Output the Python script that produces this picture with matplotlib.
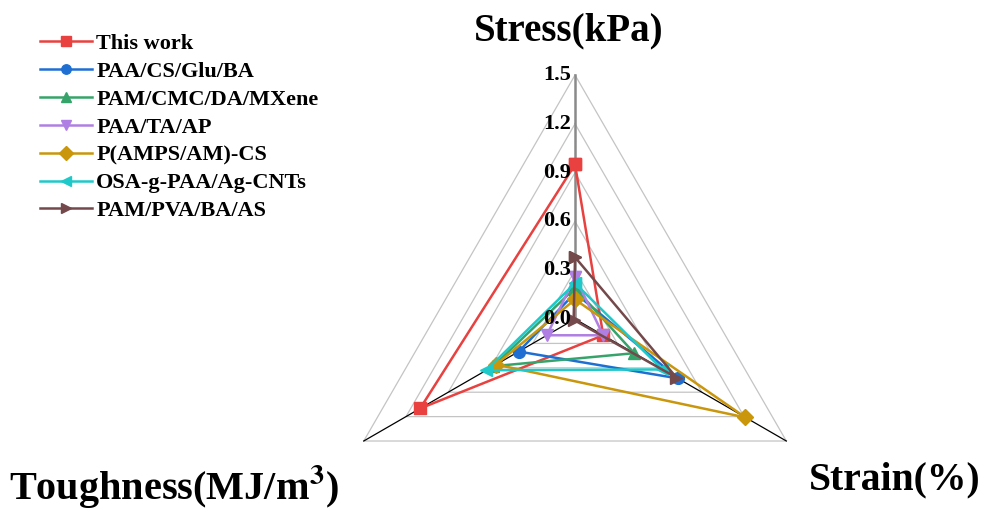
import numpy as np
import matplotlib
matplotlib.use('Agg')
import matplotlib.pyplot as plt

plt.rcParams['font.family'] = ['Liberation Serif', 'DejaVu Serif']
plt.rcParams['font.weight'] = 'bold'
plt.rcParams['mathtext.fontset'] = 'stix'

# axes order: Stress, Strain, Toughness (clockwise from top)
axis_names = ['Stress(kPa)', 'Strain(%)', 'Toughness(MJ/m$^{\\mathbf{3}}$)']
levels = [0.3, 0.6, 0.9, 1.2, 1.5]
tick_labels = ['0.0', '0.3', '0.6', '0.9', '1.2', '1.5']

this_work = [0.95, 0.20, 1.10]
paa_cs_glu_ba = [0.16, 0.73, 0.40]
pam_cmc_da_mxene = [0.19, 0.42, 0.58]
paa_ta_ap = [0.26, 0.20, 0.20]
p_amps_am_cs = [0.12, 1.21, 0.56]
osa_g_paa = [0.22, 0.62, 0.63]
pam_pva_ba_as = [0.38, 0.72, 0.01]

series = [
    ('This work', this_work, '#e8413f', 's'),
    ('PAA/CS/Glu/BA', paa_cs_glu_ba, '#1f6fd3', 'o'),
    ('PAM/CMC/DA/MXene', pam_cmc_da_mxene, '#36a46a', '^'),
    ('PAA/TA/AP', paa_ta_ap, '#b07fe3', 'v'),
    ('P(AMPS/AM)-CS', p_amps_am_cs, '#c9960c', 'D'),
    ('OSA-g-PAA/Ag-CNTs', osa_g_paa, '#1fc9c9', '<'),
    ('PAM/PVA/BA/AS', pam_pva_ba_as, '#74494b', '>'),
]

theta = np.linspace(0, 2 * np.pi, 3, endpoint=False)
theta_closed = np.append(theta, theta[0])

fig = plt.figure(figsize=(9.85, 5.11), dpi=100)
ax = fig.add_axes([0.3361, -0.1018, 0.4954, 0.955], projection='polar')
ax.set_theta_offset(np.pi / 2)
ax.set_theta_direction(-1)
ax.set_ylim(0, 1.5)
ax.grid(False)
ax.set_xticks([])
ax.set_yticks([])
ax.spines['polar'].set_visible(False)
ax.patch.set_visible(False)

# triangular grid
for lv in levels:
    ax.plot(theta_closed, [lv] * 4, color='#c4c4c4', lw=0.9, zorder=1, clip_on=False)
# spokes
ax.plot([0, 0], [0, 1.5], color='#8a8a8a', lw=1.8, zorder=2, clip_on=False)
for t in theta[1:]:
    ax.plot([t, t], [0, 1.5], color='black', lw=0.9, zorder=2, clip_on=False)

# stress tick labels
for i, lab in enumerate(tick_labels):
    ax.annotate(lab, xy=(0, i * 0.3), xytext=(-3, 0), textcoords='offset points',
                ha='right', va='center', fontsize=16, fontweight='bold', zorder=5)

for name, vals, col, mk in series:
    ax.plot(theta_closed, vals + vals[:1], color=col, lw=1.8, marker=mk,
            markersize=8.5, label=name, zorder=3, clip_on=False)

fig.text(0.577, 0.94, axis_names[0], ha='center', va='center', fontsize=28, fontweight='bold')
fig.text(0.908, 0.06, axis_names[1], ha='center', va='center', fontsize=28.5, fontweight='bold')
fig.text(0.177, 0.047, axis_names[2], ha='center', va='center', fontsize=29, fontweight='bold')

fig.legend(loc='upper left', bbox_to_anchor=(0.02, 0.974), frameon=False,
           handlelength=2.35, labelspacing=0.33, handletextpad=0.2, markerscale=0.8,
           prop={'weight': 'bold', 'size': 16})

fig.savefig('out.png', dpi=100)
